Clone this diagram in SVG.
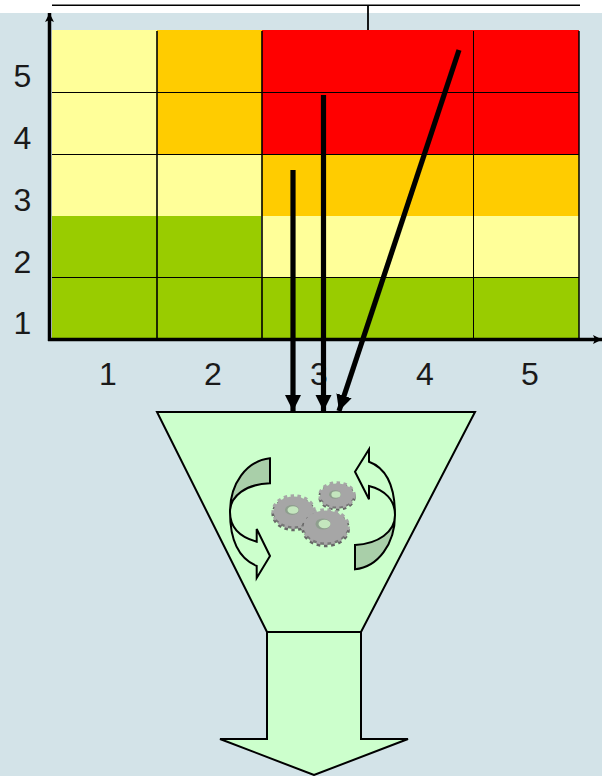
<svg xmlns="http://www.w3.org/2000/svg" width="602" height="776" viewBox="0 0 602 776">
<style>
.n{font-family:"Liberation Sans",Arial,sans-serif;font-size:32px;fill:#1a1a1a;text-anchor:middle}
.y{fill:#FFFF99}.o{fill:#FFCC00}.r{fill:#FF0000}.g{fill:#99CC00}
.grid line{stroke:#000}
.ax{stroke:#000;stroke-width:3.5;fill:none}
.conn{stroke:#000;stroke-width:5.2;fill:none}
.shape{fill:#CCFFCC;stroke:#000;stroke-width:2;stroke-linejoin:miter}
.band{fill:#A9CFA9;stroke:#000;stroke-width:2}
.curl{fill:#CCFFCC;stroke:#000;stroke-width:2;stroke-linejoin:miter}
.tooth{fill:none;stroke:#A6A6A6}
.toothd{fill:none;stroke:#666}
.body{fill:#A6A6A6}
.bodyd{fill:#777}
.hole{fill:#C4E6BE}
.holed{fill:#8E9E8E}
</style>
<defs>
<marker id="ah" markerUnits="userSpaceOnUse" markerWidth="17" markerHeight="17" refX="16" refY="8.5" orient="auto"><path d="M0,0.5L16,8.5L0,16.5Z" fill="#000"/></marker>
<marker id="ax" markerUnits="userSpaceOnUse" markerWidth="10" markerHeight="10" refX="9" refY="5" orient="auto"><path d="M0,0.5L9,5L0,9.5L2,5Z" fill="#000"/></marker>
</defs>
<rect x="0" y="13" width="602" height="763" fill="#D3E3E8"/>
<g id="matrix">
<rect class="y" x="52" y="30" width="105" height="186"/>
<rect class="y" x="157" y="154" width="105" height="62"/>
<rect class="o" x="157" y="30" width="105" height="124"/>
<rect class="r" x="262" y="30" width="317" height="124"/>
<rect class="o" x="262" y="154" width="317" height="62"/>
<rect class="y" x="262" y="216" width="317" height="61"/>
<rect class="g" x="52" y="216" width="209" height="61"/>
<rect class="g" x="52" y="277" width="527" height="62"/>
<g class="grid">
<line x1="52" y1="5.3" x2="580" y2="5.3" stroke-width="1.5"/>
<line x1="368" y1="5" x2="368" y2="30" stroke-width="1.8"/>
<line x1="52" y1="92.5" x2="579" y2="92.5" stroke-width="1"/>
<line x1="52" y1="154.5" x2="579" y2="154.5" stroke-width="1"/>
<line x1="52" y1="277.5" x2="579" y2="277.5" stroke-width="1"/>
<line x1="157" y1="31" x2="157" y2="338" stroke-width="1.6"/>
<line x1="262" y1="31" x2="262" y2="338" stroke-width="1.6"/>
<line x1="473.5" y1="31" x2="473.5" y2="338" stroke-width="1"/>
<line x1="579" y1="31" x2="579" y2="338" stroke-width="1.5"/>
</g>
</g>
<g id="axes">
<line class="ax" x1="49.5" y1="341" x2="49.5" y2="13" marker-end="url(#ax)"/>
<line class="ax" x1="48" y1="339.5" x2="602" y2="339.5" marker-end="url(#ax)"/>
</g>
<g id="labels">
<text class="n" x="22.5" y="87">5</text>
<text class="n" x="22.5" y="149">4</text>
<text class="n" x="22.5" y="211">3</text>
<text class="n" x="22.5" y="273">2</text>
<text class="n" x="22.5" y="334">1</text>
<text class="n" x="108" y="385">1</text>
<text class="n" x="213" y="385">2</text>
<text class="n" x="319" y="385">3</text>
<text class="n" x="425" y="385">4</text>
<text class="n" x="530" y="385">5</text>
</g>
<g id="funnel">
<path class="shape" d="M157,412H475L361,632H267Z"/>
</g>
<g id="output-arrow">
<path class="shape" d="M267,632H361V739H408L314,775L220,739H267Z"/>
</g>
<g id="connectors">
<line class="conn" x1="293" y1="170" x2="293" y2="411" marker-end="url(#ah)"/>
<line class="conn" x1="323.5" y1="95" x2="323.5" y2="411" marker-end="url(#ah)"/>
<line class="conn" x1="459" y1="50" x2="339" y2="411" marker-end="url(#ah)"/>
</g>
<g id="cycle-left">
<path class="curl" d="M230,512C230,542 240,559 256.7,566V578L270,556L256.7,529V541.7C243,538 230,530 230,512Z"/>
<path class="band" d="M270,458.3C246,461 230,484 230,512C230,496 246,484 270,483.3Z"/>
</g>
<g id="cycle-right">
<path class="curl" d="M395,515C395,486 386,468 369,461.7V449.3L355,471.7L369,499.3V486C385,490 395,500 395,515Z"/>
<path class="band" d="M355,569.3C378,567 395,544 395,515C395,532 378,544 355,545Z"/>
</g>
<g id="gears">
<ellipse class="toothd" cx="293.7" cy="514" rx="20.5" ry="15.5" stroke-width="3.5" stroke-dasharray="3.4 3.4"/>
<ellipse class="bodyd" cx="293.7" cy="514" rx="20" ry="15"/>
<ellipse class="tooth" cx="293.7" cy="511.5" rx="20.5" ry="15.5" stroke-width="3.5" stroke-dasharray="3.4 3.4"/>
<ellipse class="body" cx="293.7" cy="511.5" rx="20" ry="15"/>
<ellipse class="holed" cx="292" cy="510" rx="7" ry="5"/>
<ellipse class="hole" cx="293" cy="510" rx="5.5" ry="3.8"/>
<ellipse class="toothd" cx="337" cy="497" rx="17" ry="12" stroke-width="3.5" stroke-dasharray="3.4 3.4"/>
<ellipse class="bodyd" cx="337" cy="497" rx="16.5" ry="11.5"/>
<ellipse class="tooth" cx="337" cy="495" rx="17" ry="12" stroke-width="3.5" stroke-dasharray="3.4 3.4"/>
<ellipse class="body" cx="337" cy="495" rx="16.5" ry="11.5"/>
<ellipse class="holed" cx="335" cy="494.5" rx="6" ry="4.2"/>
<ellipse class="hole" cx="336" cy="494.5" rx="4.6" ry="3.2"/>
<ellipse class="toothd" cx="325.7" cy="529" rx="22.5" ry="16.5" stroke-width="3.5" stroke-dasharray="3.6 3.6"/>
<ellipse class="bodyd" cx="325.7" cy="529" rx="22" ry="16"/>
<ellipse class="tooth" cx="325.7" cy="526.5" rx="22.5" ry="16.5" stroke-width="3.5" stroke-dasharray="3.6 3.6"/>
<ellipse class="body" cx="325.7" cy="526.5" rx="22" ry="16"/>
<ellipse class="holed" cx="323" cy="524" rx="7.5" ry="5.5"/>
<ellipse class="hole" cx="324.5" cy="524" rx="6" ry="4.2"/>
</g>
</svg>
